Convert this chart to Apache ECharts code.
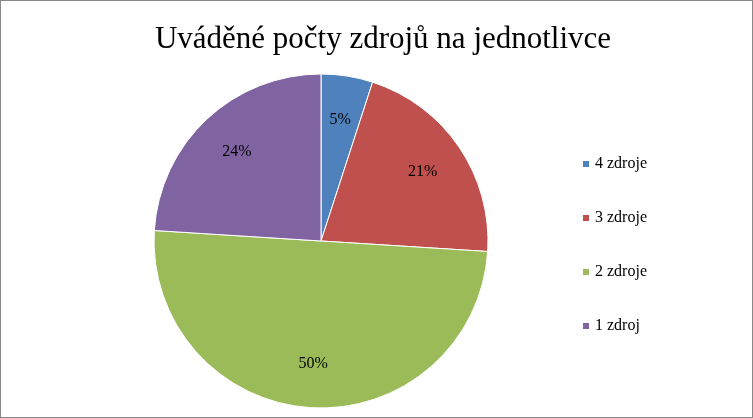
<!DOCTYPE html><html><head><meta charset="utf-8">
<script src="https://cdn.jsdelivr.net/npm/echarts@6/dist/echarts.min.js"></script>
<style>html,body{margin:0;padding:0;background:#fff}#c{width:751px;height:416px;border:1px solid #888}</style>
</head><body><div id="c"></div><script>
const categories=['4 zdroje','3 zdroje','2 zdroje','1 zdroj'];
const values=[5,21,50,24];
const colors=['#4F81BD','#C0504D','#9BBB59','#8064A2'];
const data=categories.map((n,i)=>({name:n,value:values[i],itemStyle:{color:colors[i]}}));
const chart=echarts.init(document.getElementById('c'));
const font='"Liberation Serif","DejaVu Serif",serif';
chart.setOption({
 animation:false,
 title:{text:'Uváděné počty zdrojů na jednotlivce',left:377,top:18,textAlign:'center',textStyle:{fontFamily:font,fontSize:31,fontWeight:'normal',color:'#000'}},
 legend:{orient:'vertical',left:575,top:150,itemGap:38,itemWidth:8,itemHeight:8,icon:'rect',data:categories,textStyle:{fontFamily:font,fontSize:16,color:'#000'}},
 series:[
  {type:'pie',center:[320,240],radius:[0,167],startAngle:90,clockwise:true,data:data,label:{show:false},labelLine:{show:false},itemStyle:{borderColor:'#fff',borderWidth:1}},
  {type:'pie',center:[320,240],radius:[70,170],startAngle:90,clockwise:true,silent:true,
   data:data.map(d=>({name:d.name,value:d.value,itemStyle:{color:'rgba(0,0,0,0)'}})),
   label:{show:true,position:'inside',formatter:'{c}%',fontFamily:font,fontSize:16,color:'#000'},labelLine:{show:false},legendHoverLink:false}
 ]
});
</script></body></html>
